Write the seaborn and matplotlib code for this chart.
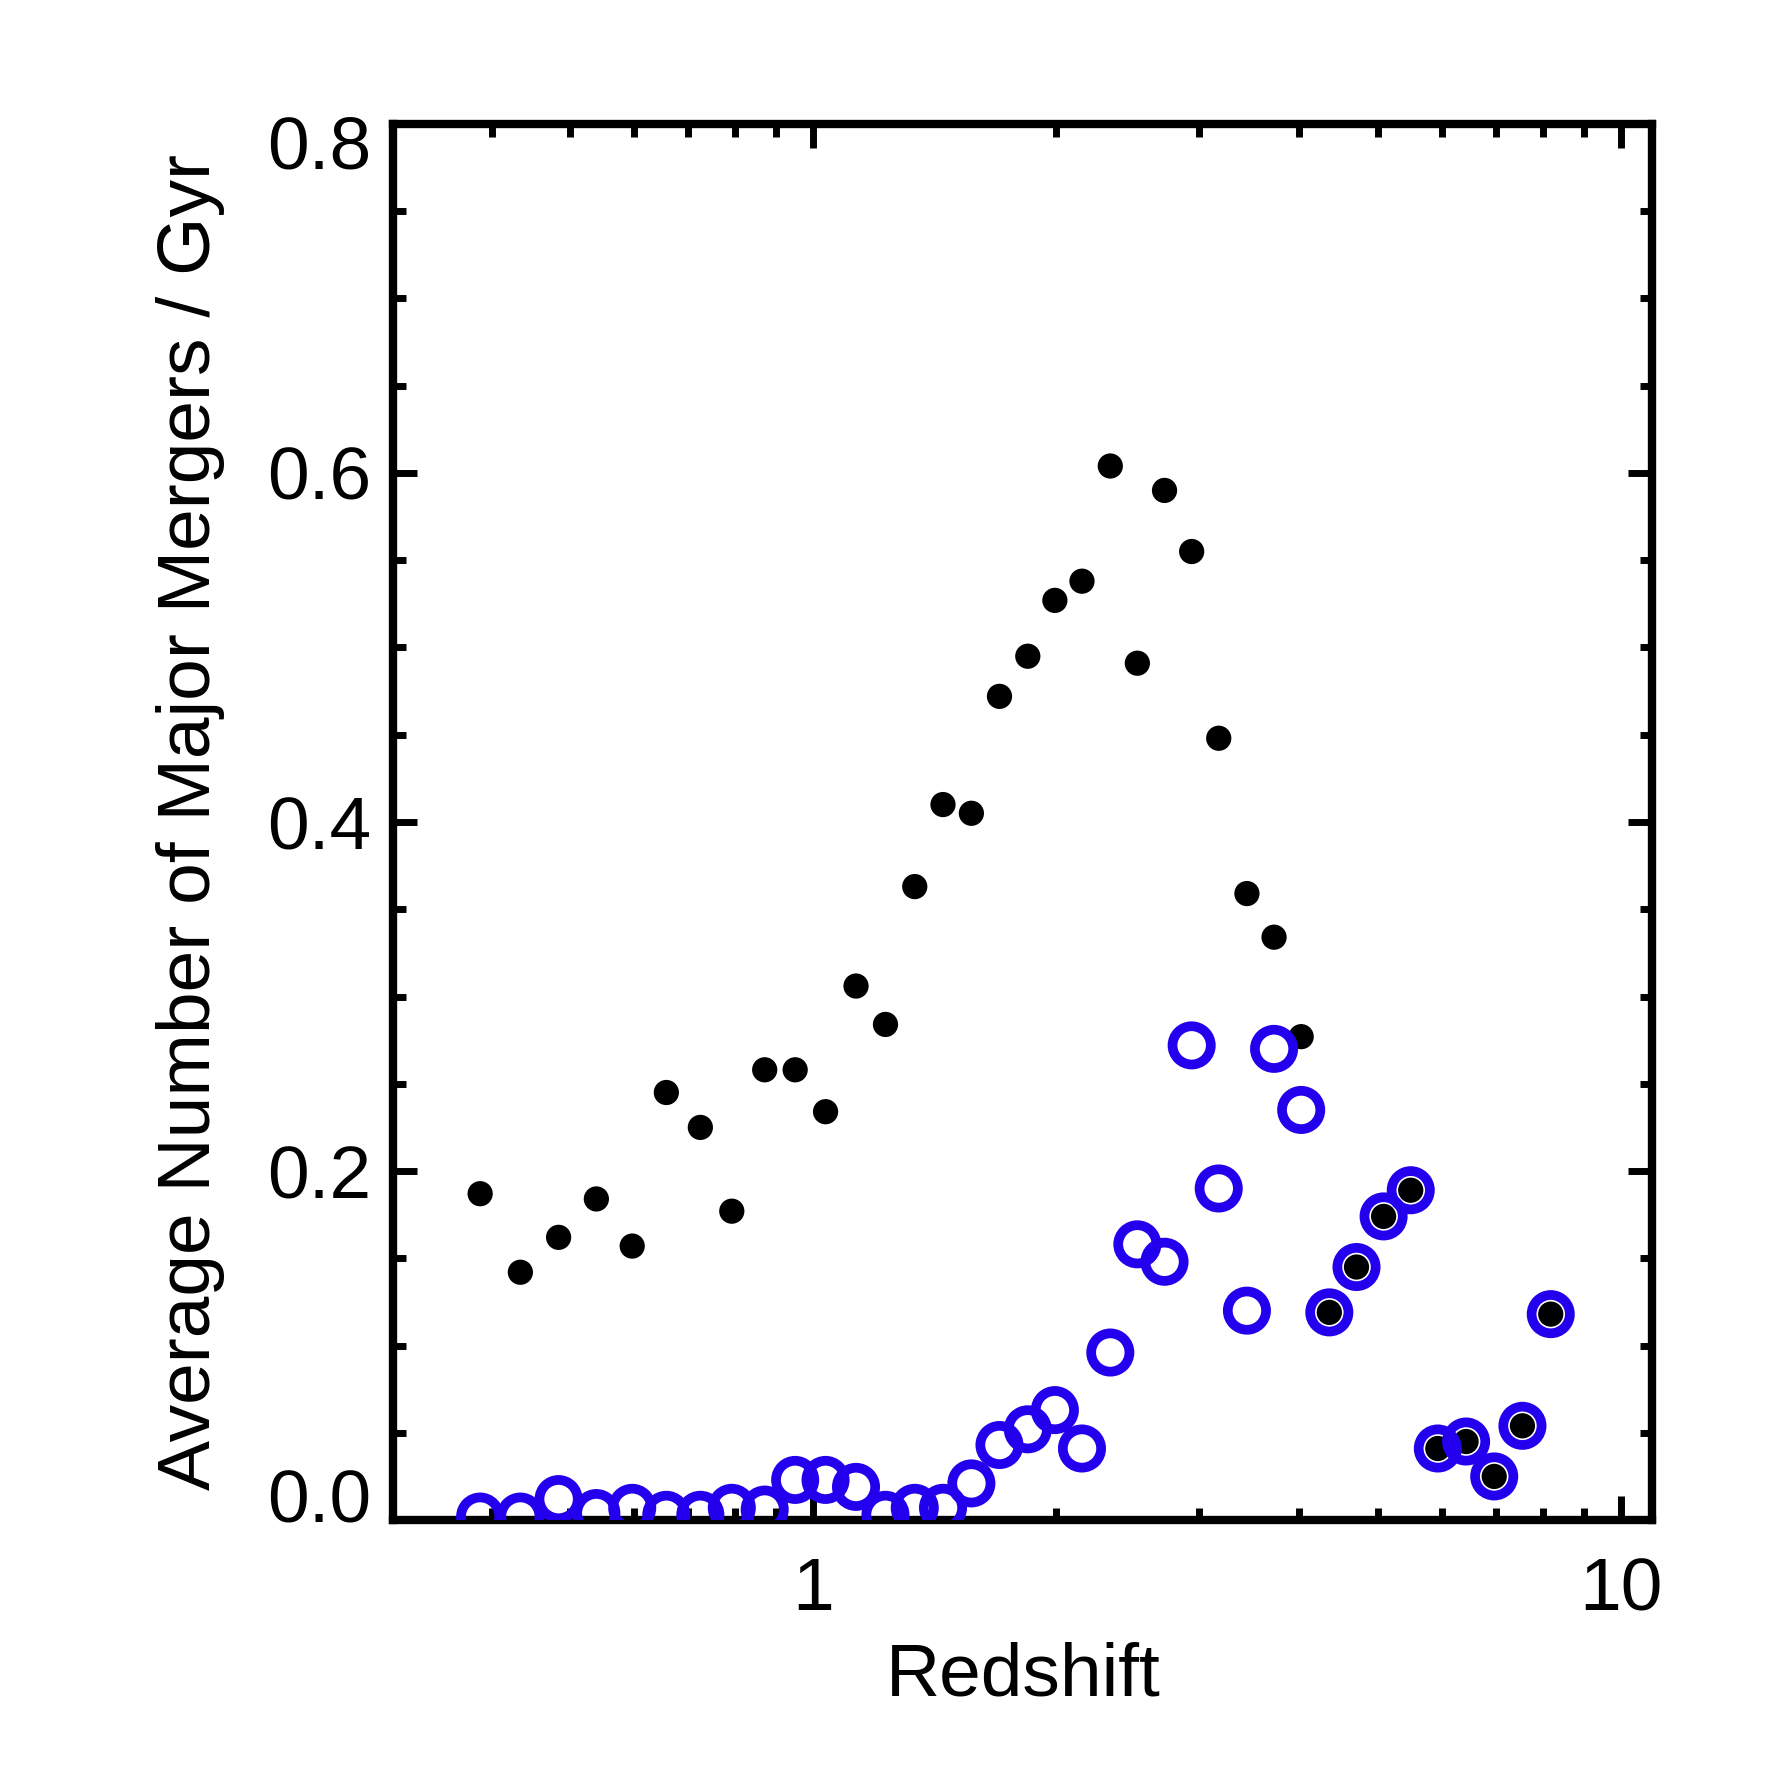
import numpy as np
import pandas as pd
import matplotlib
matplotlib.use("Agg")
import matplotlib.pyplot as plt
import matplotlib.transforms as mtransforms
import seaborn as sns
from matplotlib.ticker import FixedLocator, MultipleLocator, NullFormatter

# redshift bins
redshift = [0.387, 0.434, 0.484, 0.539, 0.597, 0.658, 0.725, 0.793, 0.871, 0.950,
            1.036, 1.130, 1.229, 1.336, 1.448, 1.570, 1.701, 1.844, 1.992, 2.152,
            2.333, 2.520, 2.723, 2.942, 3.178, 3.444, 3.721, 4.020, 4.356, 4.707,
            5.085, 5.494, 5.935, 6.433, 6.970, 7.554, 8.189]

# all major mergers (black dots)
rate_all = [0.187, 0.142, 0.162, 0.184, 0.157, 0.245, 0.225, 0.177, 0.258, 0.258,
            0.234, 0.306, 0.284, 0.363, 0.410, 0.405, 0.472, 0.495, 0.527, 0.538,
            0.604, 0.491, 0.590, 0.555, 0.448, 0.359, 0.334, 0.277, 0.119, 0.145,
            0.174, 0.189, 0.041, 0.045, 0.025, 0.054, 0.118]

# subset (blue open circles)
rate_sub = [0.002, 0.002, 0.012, 0.004, 0.007, 0.003, 0.003, 0.007, 0.006, 0.023,
            0.023, 0.019, 0.003, 0.007, 0.007, 0.021, 0.043, 0.052, 0.063, 0.041,
            0.096, 0.158, 0.148, 0.272, 0.190, 0.120, 0.270, 0.235, 0.119, 0.145,
            0.174, 0.189, 0.041, 0.045, 0.025, 0.054, 0.118]

df = pd.DataFrame({'z': redshift, 'all': rate_all, 'sub': rate_sub})

sns.set_style('ticks')
plt.rcParams['font.family'] = ['Liberation Sans', 'DejaVu Sans']
plt.rcParams['text.color'] = 'black'
plt.rcParams['axes.labelcolor'] = 'black'
plt.rcParams['xtick.color'] = 'black'
plt.rcParams['ytick.color'] = 'black'

fig = plt.figure(figsize=(17.71, 17.71), dpi=100)
ax = fig.add_axes([0.222, 0.1417, 0.711, 0.7883])

sns.scatterplot(x='z', y='all', data=df, ax=ax, color='black', s=330,
                edgecolor='none', zorder=3)
sns.scatterplot(x='z', y='sub', data=df, ax=ax, marker='o', s=760,
                facecolors='none', edgecolor='#2200ee', linewidth=7, zorder=4)

ax.set_xscale('log')
ax.set_xlim(0.302, 10.94)
ax.set_ylim(0.0, 0.8)

ax.xaxis.set_major_locator(FixedLocator([1, 10]))
ax.xaxis.set_minor_locator(FixedLocator([0.4, 0.5, 0.6, 0.7, 0.8, 0.9,
                                         2, 3, 4, 5, 6, 7, 8, 9]))
ax.xaxis.set_minor_formatter(NullFormatter())
ax.set_xticklabels(['1', '10'])
ax.yaxis.set_major_locator(MultipleLocator(0.2))
ax.yaxis.set_minor_locator(MultipleLocator(0.05))
ax.set_yticks([0.0, 0.2, 0.4, 0.6, 0.8])
ax.set_yticklabels(['0.0', '0.2', '0.4', '0.6', '0.8'])

for s in ax.spines.values():
    s.set_linewidth(6)
    s.set_color('black')
ax.tick_params(which='both', direction='in', top=True, right=True,
               width=5, color='black')
ax.tick_params(which='major', length=17, labelsize=54, labelcolor='black')
ax.tick_params(which='minor', length=9)
ax.tick_params(axis='x', which='major', pad=26)
ax.tick_params(axis='y', which='major', pad=16)

# end labels kept inside the axis range, like the original
labels = ax.get_yticklabels()
labels[0].set_transform(labels[0].get_transform() +
                        mtransforms.ScaledTranslation(0, 0.25, fig.dpi_scale_trans))
labels[-1].set_transform(labels[-1].get_transform() +
                         mtransforms.ScaledTranslation(0, -0.18, fig.dpi_scale_trans))

ax.set_xlabel('Redshift', fontsize=54, labelpad=12, color='black')
ax.set_ylabel('Average Number of Major Mergers / Gyr', fontsize=54,
              labelpad=30, color='black')
ax.grid(False)

fig.savefig('out.png', dpi=100, facecolor='white')
